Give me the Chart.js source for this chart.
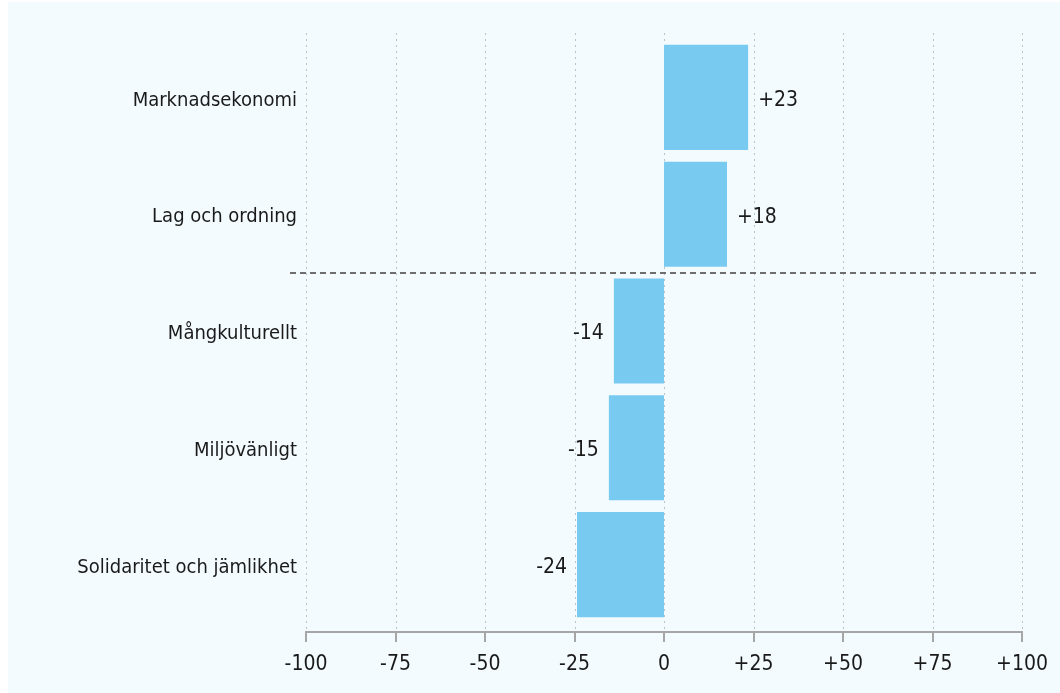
<!DOCTYPE html>
<html><head><meta charset="utf-8">
<script src="https://cdn.jsdelivr.net/npm/chart.js@4/dist/chart.umd.min.js"></script>
<style>html,body{margin:0;padding:0;background:#fff;}#c{display:block;}</style>
</head><body>
<canvas id="c" width="1060" height="693"></canvas>
<script>
const categories = ["Marknadsekonomi", "Lag och ordning", "Mångkulturellt", "Miljövänligt", "Solidaritet och jämlikhet"];
const values = [23.5, 17.6, -14, -15.4, -24.3];
const valueLabels = ["+23", "+18", "-14", "-15", "-24"];
const tickValues = [-100, -75, -50, -25, 0, 25, 50, 75, 100];
const tickLabels = ["-100", "-75", "-50", "-25", "0", "+25", "+50", "+75", "+100"];

const FONT = "'Liberation Sans Narrow', 'DejaVu Sans Condensed', sans-serif";

const deco = {
  id: 'deco',
  beforeDraw(chart) {
    const ctx = chart.ctx;
    ctx.save();
    ctx.fillStyle = '#f3fbfe';
    ctx.fillRect(8, 2, chart.width - 8, chart.height - 2);
    ctx.restore();
  },
  beforeDatasetsDraw(chart) {
    const ctx = chart.ctx, xs = chart.scales.x, ca = chart.chartArea;
    const top = ca.top - 6, axisY = ca.bottom + 9;
    ctx.save();
    ctx.strokeStyle = '#bcc1c5';
    ctx.lineWidth = 1;
    ctx.setLineDash([2, 4]);
    tickValues.forEach(v => {
      const x = Math.round(xs.getPixelForValue(v)) + 0.5;
      ctx.beginPath(); ctx.moveTo(x, top); ctx.lineTo(x, axisY); ctx.stroke();
    });
    ctx.setLineDash([]);
    ctx.strokeStyle = '#a6a6a6';
    ctx.lineWidth = 2;
    ctx.beginPath();
    ctx.moveTo(xs.getPixelForValue(-100), axisY);
    ctx.lineTo(xs.getPixelForValue(100), axisY);
    ctx.stroke();
    tickValues.forEach(v => {
      const x = Math.round(xs.getPixelForValue(v));
      ctx.beginPath(); ctx.moveTo(x, axisY - 1); ctx.lineTo(x, axisY + 10); ctx.stroke();
    });
    ctx.restore();
  },
  afterDatasetsDraw(chart) {
    const ctx = chart.ctx, ys = chart.scales.y, xs = chart.scales.x;
    ctx.save();
    const yMid = Math.round((ys.getPixelForValue(1) + ys.getPixelForValue(2)) / 2);
    ctx.strokeStyle = '#6e6e6e';
    ctx.lineWidth = 2;
    ctx.setLineDash([6, 4]);
    ctx.beginPath();
    ctx.moveTo(xs.getPixelForValue(-100) - 16, yMid);
    ctx.lineTo(xs.getPixelForValue(100) + 14, yMid);
    ctx.stroke();
    ctx.setLineDash([]);
    ctx.fillStyle = '#1a1a1a';
    ctx.font = '21px ' + FONT;
    ctx.textBaseline = 'middle';
    const meta = chart.getDatasetMeta(0);
    meta.data.forEach((bar, i) => {
      const v = values[i];
      if (v >= 0) { ctx.textAlign = 'left'; ctx.fillText(valueLabels[i], bar.x + 10, bar.y + 3); }
      else { ctx.textAlign = 'right'; ctx.fillText(valueLabels[i], bar.x - 10, bar.y + 3); }
    });
    ctx.restore();
  }
};

new Chart(document.getElementById('c'), {
  type: 'bar',
  data: {
    labels: categories,
    datasets: [{
      data: values,
      backgroundColor: '#78caf0',
      borderWidth: 0,
      barPercentage: 0.9,
      categoryPercentage: 1.0
    }]
  },
  options: {
    indexAxis: 'y',
    responsive: false,
    animation: false,
    layout: { padding: { top: 39, right: 38, bottom: 0, left: 0 } },
    plugins: { legend: { display: false }, tooltip: { enabled: false } },
    scales: {
      x: {
        min: -100, max: 100,
        afterBuildTicks(scale) { scale.ticks = tickValues.map(v => ({ value: v })); },
        afterFit(scale) { scale.height = 70; scale.paddingLeft = 0; scale.paddingRight = 0; },
        grid: { display: false, drawTicks: false },
        border: { display: false },
        ticks: {
          padding: 29,
          color: '#1a1a1a',
          font: { family: FONT, size: 21 },
          callback(value) { return tickLabels[tickValues.indexOf(value)]; },
          maxRotation: 0
        }
      },
      y: {
        afterFit(scale) { scale.width = 306; scale.paddingTop = 0; scale.paddingBottom = 0; },
        grid: { display: false, drawTicks: false },
        border: { display: false },
        ticks: {
          padding: 9,
          labelOffset: 3,
          color: '#1a1a1a',
          font: { family: FONT, size: 20 }
        }
      }
    }
  },
  plugins: [deco]
});
</script>
</body></html>
